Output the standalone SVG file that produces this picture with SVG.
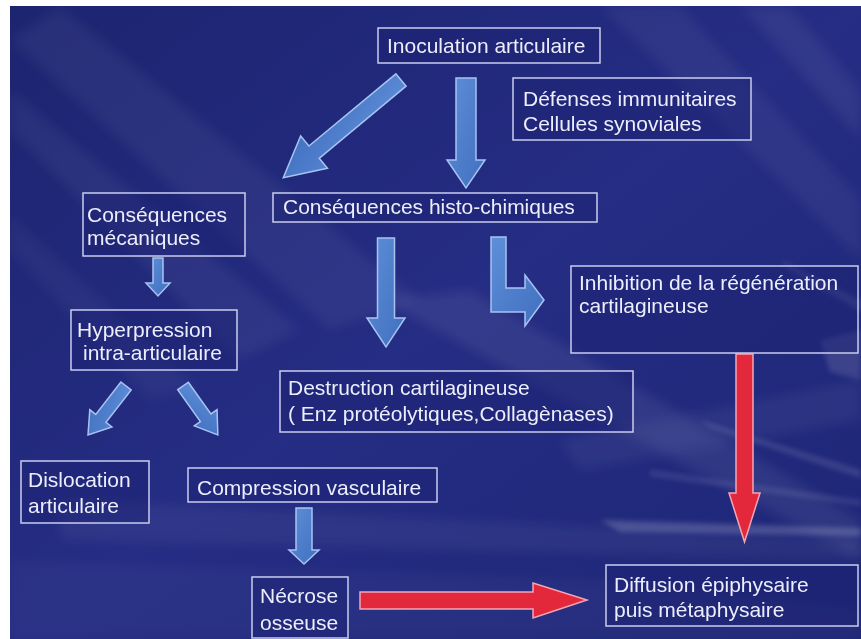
<svg xmlns="http://www.w3.org/2000/svg" width="861" height="639" viewBox="0 0 861 639">
<defs>
<linearGradient id="bg" x1="0" y1="0" x2="1" y2="1">
<stop offset="0" stop-color="#1d2470"/>
<stop offset="0.5" stop-color="#252d84"/>
<stop offset="1" stop-color="#1e2676"/>
</linearGradient>
<linearGradient id="blueArrow" x1="0" y1="0" x2="1" y2="1">
<stop offset="0" stop-color="#5f8fd8"/>
<stop offset="1" stop-color="#3f6fbf"/>
</linearGradient>
<filter id="blur" x="-20%" y="-20%" width="140%" height="140%">
<feGaussianBlur stdDeviation="6"/>
</filter>
<filter id="blur2" x="-20%" y="-20%" width="140%" height="140%">
<feGaussianBlur stdDeviation="2.5"/>
</filter>
</defs>
<style>
.box{fill:#1c2270;fill-opacity:0.45;stroke:#c9cdee;stroke-width:1.5}
.t{font-family:"Liberation Sans",Arial,sans-serif;font-size:21px;fill:#eceefc}
.ba{fill:url(#blueArrow);stroke:#a9c2f2;stroke-width:1.5;stroke-linejoin:miter}
.ra{fill:#e4283c;stroke:#f2a6b6;stroke-width:1.5}
</style>
<rect width="861" height="639" fill="#ffffff"/>
<g id="background">
<rect x="10" y="6" width="851" height="633" fill="url(#bg)"/>
<g filter="url(#blur)" fill="#ffffff">
<polygon points="10,40 60,6 420,300 330,330" opacity="0.05"/>
<polygon points="10,130 10,90 300,330 240,360" opacity="0.05"/>
<polygon points="10,250 10,215 200,390 150,400" opacity="0.04"/>
<polygon points="600,6 680,6 861,200 861,260" opacity="0.05"/>
<polygon points="740,6 790,6 861,90 861,140" opacity="0.06"/>
<polygon points="380,300 470,290 861,520 861,560" opacity="0.07"/>
<polygon points="560,440 861,380 861,420 580,470" opacity="0.05"/>
<polygon points="60,500 861,540 861,560 60,540" opacity="0.05"/>
<polygon points="10,560 600,580 861,610 861,639 10,639" opacity="0.03"/>
</g>
<g filter="url(#blur2)" fill="#ffffff">
<polygon points="600,520 861,528 861,536 620,532" opacity="0.18"/>
<polygon points="700,420 861,470 861,478 710,428" opacity="0.12"/>
<polygon points="780,260 861,300 861,312 790,270" opacity="0.12"/>
<polygon points="820,340 861,330 861,380 830,372" opacity="0.12"/>
<polygon points="650,470 861,500 861,506 650,476" opacity="0.1"/>
</g>
</g>
<g id="connectors">
<g transform="translate(401,80) rotate(140.3)"><polygon class="ba" points="0,-8 113,-8 113,-21 153,0 113,21 113,8 0,8"/></g>
<polygon class="ba" points="456,78 476,78 476,160 485,160 466,188 447,160 456,160"/>
<polygon class="ba" points="153,258 163,258 163,283 170,283 158,296 146,283 153,283"/>
<polygon class="ba" points="377.5,238 394.5,238 394.5,318 405,318 386,347 367,318 377.5,318"/>
<polygon class="ba" points="491,237 506,237 506,288 525,288 525,275 544,300 525,326 525,312 491,312"/>
<g transform="translate(126,386) rotate(127.8)"><polygon class="ba" points="0,-6.5 41,-6.5 41,-14 62,0 41,14 41,6.5 0,6.5"/></g>
<g transform="translate(183,386) rotate(54.5)"><polygon class="ba" points="0,-6.5 39,-6.5 39,-14 60,0 39,14 39,6.5 0,6.5"/></g>
<polygon class="ba" points="296,508 312,508 312,550 319,550 304,564 289,550 296,550"/>
<polygon class="ra" points="736,354 753,354 753,493 760,493 744.5,542 729,493 736,493"/>
<polygon class="ra" points="360,592 533,592 533,583 587,600 533,618 533,609 360,609"/>
</g>
<g id="inoculation">
<rect class="box" x="378" y="28" width="222" height="35"/>
<text class="t" x="387" y="53">Inoculation articulaire</text>
</g>
<g id="defenses">
<rect class="box" x="513" y="78" width="238" height="62"/>
<text class="t" x="523" y="106">Défenses immunitaires</text>
<text class="t" x="523" y="131">Cellules synoviales</text>
</g>
<g id="consequences-mecaniques">
<rect class="box" x="83" y="193" width="162" height="63"/>
<text class="t" x="87" y="222">Conséquences</text>
<text class="t" x="87" y="245">mécaniques</text>
</g>
<g id="consequences-histo">
<rect class="box" x="273" y="193" width="324" height="29"/>
<text class="t" x="283" y="214">Conséquences histo-chimiques</text>
</g>
<g id="inhibition">
<rect class="box" x="571" y="266" width="287" height="87"/>
<text class="t" x="579" y="290">Inhibition de la régénération</text>
<text class="t" x="579" y="313">cartilagineuse</text>
</g>
<g id="hyperpression">
<rect class="box" x="71" y="310" width="166" height="60"/>
<text class="t" x="77" y="337">Hyperpression</text>
<text class="t" x="83" y="360">intra-articulaire</text>
</g>
<g id="destruction">
<rect class="box" x="280" y="371" width="353" height="61"/>
<text class="t" x="288" y="395">Destruction cartilagineuse</text>
<text class="t" x="288" y="421">( Enz protéolytiques,Collagènases)</text>
</g>
<g id="dislocation">
<rect class="box" x="21" y="461" width="128" height="62"/>
<text class="t" x="28" y="487">Dislocation</text>
<text class="t" x="28" y="513">articulaire</text>
</g>
<g id="compression">
<rect class="box" x="188" y="468" width="249" height="34"/>
<text class="t" x="197" y="495">Compression vasculaire</text>
</g>
<g id="necrose">
<rect class="box" x="252" y="577" width="96" height="61"/>
<text class="t" x="260" y="603">Nécrose</text>
<text class="t" x="260" y="630">osseuse</text>
</g>
<g id="diffusion">
<rect class="box" x="606" y="565" width="252" height="61"/>
<text class="t" x="614" y="592">Diffusion épiphysaire</text>
<text class="t" x="614" y="617">puis métaphysaire</text>
</g>
</svg>
